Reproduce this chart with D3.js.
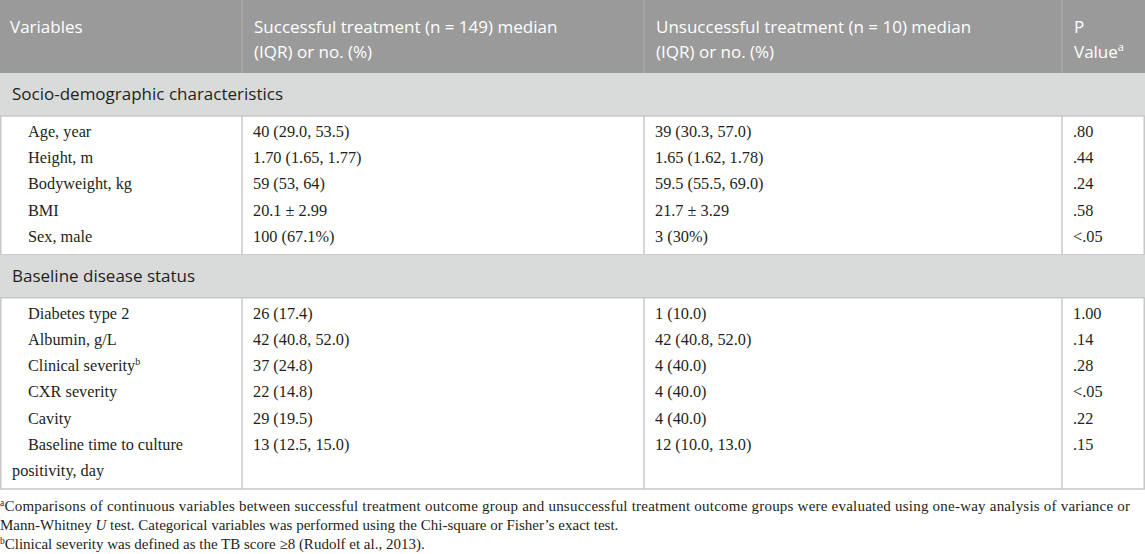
<!DOCTYPE html>
<html>
<head>
<meta charset="utf-8">
<script src="https://cdn.jsdelivr.net/npm/d3@7"></script>
<style>
  body { margin: 0; background: #fff; }
  .head { font-family: "Open Sans", "Noto Sans", sans-serif; font-size: 17px; fill: #fff; }
  .section { font-family: "Open Sans", "Noto Sans", sans-serif; font-size: 17px; fill: #231f20; }
  .cell { font-family: "Liberation Serif", serif; font-size: 16.3px; fill: #231f20; }
  .note { font-family: "Liberation Serif", serif; font-size: 15px; fill: #231f20; }
</style>
</head>
<body>
<svg id="table"></svg>
<script>
// table content
const headers = ["Variables", "Successful treatment (n = 149) median\n(IQR) or no. (%)",
  "Unsuccessful treatment (n = 10) median\n(IQR) or no. (%)", "P\nValue"];
const sections = ["Socio-demographic characteristics", "Baseline disease status"];

const variables1 = ["Age, year", "Height, m", "Bodyweight, kg", "BMI", "Sex, male"];
const successful1 = ["40 (29.0, 53.5)", "1.70 (1.65, 1.77)", "59 (53, 64)", "20.1 ± 2.99", "100 (67.1%)"];
const unsuccessful1 = ["39 (30.3, 57.0)", "1.65 (1.62, 1.78)", "59.5 (55.5, 69.0)", "21.7 ± 3.29", "3 (30%)"];
const pValues1 = [".80", ".44", ".24", ".58", "<.05"];

const variables2 = ["Diabetes type 2", "Albumin, g/L", "Clinical severity", "CXR severity", "Cavity",
  "Baseline time to culture\npositivity, day"];
const successful2 = ["26 (17.4)", "42 (40.8, 52.0)", "37 (24.8)", "22 (14.8)", "29 (19.5)", "13 (12.5, 15.0)"];
const unsuccessful2 = ["1 (10.0)", "42 (40.8, 52.0)", "4 (40.0)", "4 (40.0)", "4 (40.0)", "12 (10.0, 13.0)"];
const pValues2 = ["1.00", ".14", ".28", "<.05", ".22", ".15"];

// superscript marks
const superHeader = {3: "a"};
const superVar = {"Clinical severity": "b"};

const footnotes = [
  [["a", "sup"], ["Comparisons of continuous variables between successful treatment outcome group and unsuccessful treatment outcome groups were evaluated using one-way analysis of variance or", ""]],
  [["Mann-Whitney ", ""], ["U", "it"], [" test. Categorical variables was performed using the Chi-square or Fisher’s exact test.", ""]],
  [["b", "sup"], ["Clinical severity was defined as the TB score ≥8 (Rudolf et al., 2013).", ""]]
];

const W = 1145, H = 554;
const colEdges = [0, 242, 644, 1062, 1145];
const pad = 11;
const headerH = 73, sectionH = 43, rowStep = 26.2, groupPadTop = 21, groupPadBottom = 13;
const lineCol = "#c8c8c8";

const svg = d3.select("#table").attr("width", W).attr("height", H);

const xCol = d3.scaleOrdinal().domain([0, 1, 2, 3]).range(colEdges.slice(0, 4));

// header
svg.append("rect").attr("x", 0).attr("y", 0).attr("width", W).attr("height", headerH).attr("fill", "#9a9a9a");
svg.selectAll(".hsep").data(colEdges.slice(1, 4)).join("line")
  .attr("x1", d => d).attr("x2", d => d).attr("y1", 0).attr("y2", headerH)
  .attr("stroke", "#aaaaaa").attr("stroke-width", 1.5);

headers.forEach((h, c) => {
  const lines = h.split("\n");
  lines.forEach((ln, i) => {
    const t = svg.append("text").attr("class", "head")
      .attr("x", xCol(c) + (c === 0 ? 10 : pad + 1))
      .attr("y", 33 + i * 25);
    t.append("tspan").text(ln);
    if (superHeader[c] && i === lines.length - 1) {
      t.append("tspan").attr("dy", -7).attr("font-size", 11).text(superHeader[c]);
    }
  });
});

// body groups
const groups = [
  {title: sections[0], vars: variables1, s: successful1, u: unsuccessful1, p: pValues1},
  {title: sections[1], vars: variables2, s: successful2, u: unsuccessful2, p: pValues2}
];

let yTop = headerH;
groups.forEach(g => {
  svg.append("rect").attr("x", 0).attr("y", yTop).attr("width", W).attr("height", sectionH).attr("fill", "#d9dbda");
  svg.append("text").attr("class", "section").attr("x", 12).attr("y", yTop + 27).text(g.title);

  const bodyTop = yTop + sectionH;
  const nLines = d3.sum(g.vars, v => v.split("\n").length);
  const bodyH = groupPadTop + (nLines - 1) * rowStep + groupPadBottom;
  const y = d3.scaleLinear().domain([0, 1]).range([bodyTop + groupPadTop, bodyTop + groupPadTop + rowStep]);

  // column separators and outer borders of the body block
  svg.append("g").selectAll("line").data(colEdges.map((d, i) => i === 0 ? 0.75 : (i === 4 ? W - 0.75 : d))).join("line")
    .attr("x1", d => d).attr("x2", d => d).attr("y1", bodyTop).attr("y2", bodyTop + bodyH)
    .attr("stroke", lineCol).attr("stroke-width", 1.5);

  g.vars.forEach((v, i) => {
    const lines = v.split("\n");
    lines.forEach((ln, k) => {
      const t = svg.append("text").attr("class", "cell")
        .attr("x", k === 0 ? 28 : 12).attr("y", y(i + k));
      t.append("tspan").text(ln);
      if (superVar[v]) t.append("tspan").attr("dy", -6).attr("font-size", 10).text(superVar[v]);
    });
    [g.s[i], g.u[i], g.p[i]].forEach((val, c) => {
      svg.append("text").attr("class", "cell")
        .attr("x", xCol(c + 1) + pad).attr("y", y(i)).text(val);
    });
  });

  // horizontal rules
  [bodyTop, bodyTop + bodyH].forEach(yy => {
    svg.append("line").attr("x1", 0).attr("x2", W).attr("y1", yy).attr("y2", yy)
      .attr("stroke", lineCol).attr("stroke-width", 1.5);
  });
  yTop = bodyTop + bodyH;
});

// footnotes (first line is justified to the table width)
footnotes.forEach((parts, i) => {
  const t = svg.append("text").attr("class", "note").attr("x", 0).attr("y", yTop + 22 + i * 19);
  parts.forEach(([txt, kind]) => {
    const s = t.append("tspan").text(txt);
    if (kind === "sup") s.attr("font-size", 9.5).attr("dy", -5);
    if (kind === "it") s.attr("font-style", "italic");
    if (parts[0][1] === "sup" && kind === "") s.attr("dy", 5);
  });
  if (i === 0) t.attr("textLength", 1130).attr("lengthAdjust", "spacing");
});
</script>
</body>
</html>
